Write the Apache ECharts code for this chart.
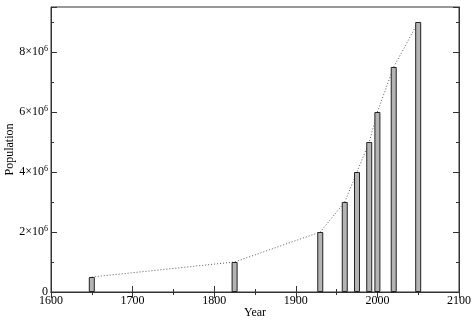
<!DOCTYPE html>
<html>
<head>
<meta charset="utf-8">
<script src="https://cdn.jsdelivr.net/npm/echarts@6/dist/echarts.min.js"></script>
<style>
  html, body { margin: 0; padding: 0; background: #fff; }
</style>
</head>
<body>
<div id="chart_con" style="width:474px;height:321px;"></div>
<script>
// population by year
const years = [1650, 1825, 1930, 1960, 1975, 1990, 2000, 2020, 2050];
const population = [0.5e6, 1e6, 2e6, 3e6, 4e6, 5e6, 6e6, 7.5e6, 9e6];
const xTicks = [1600, 1700, 1800, 1900, 2000, 2100];
const yTicks = [0, 2e6, 4e6, 6e6, 8e6];

let chart = echarts.init(document.getElementById('chart_con'));
let points = years.map((y, i) => [y, population[i]]);
const font = 'Liberation Serif';

const tickStyle = { inside: true, length: 6, lineStyle: { color: '#333' } };
const minorStyle = { show: true, splitNumber: 2, length: 3, lineStyle: { color: '#333' } };
const lineStyle = { color: '#333', width: 1 };

const option = {
    animation: false,
    grid: {
        left: 51, right: 15, top: 7, bottom: 29,
        outerBoundsMode: 'none', containLabel: false,
        show: true, borderColor: '#333', borderWidth: 1
    },
    xAxis: [
        {
            type: 'value', min: xTicks[0], max: xTicks[xTicks.length - 1], interval: 100,
            name: 'Year', nameLocation: 'middle', nameGap: 15, nameMoveOverlap: false,
            nameTextStyle: { fontFamily: font, fontSize: 12, color: '#000' },
            axisLine: { lineStyle: lineStyle },
            axisTick: tickStyle, minorTick: minorStyle,
            axisLabel: { fontFamily: font, fontSize: 12, color: '#000', margin: 3, formatter: v => String(v) },
            splitLine: { show: false }
        },
        {
            type: 'value', position: 'top', min: xTicks[0], max: xTicks[xTicks.length - 1], interval: 100,
            axisLine: { show: true, lineStyle: lineStyle },
            axisTick: tickStyle, minorTick: minorStyle,
            axisLabel: { show: false }, splitLine: { show: false }
        }
    ],
    yAxis: [
        {
            type: 'value', min: 0, max: 9.5e6, interval: 2e6,
            name: 'Population', nameLocation: 'middle', nameGap: 35, nameMoveOverlap: false,
            nameTextStyle: { fontFamily: font, fontSize: 12, color: '#000' },
            axisLine: { show: true, lineStyle: lineStyle },
            axisTick: tickStyle, minorTick: minorStyle,
            axisLabel: {
                fontFamily: font, fontSize: 12, color: '#000', margin: 3,
                showMaxLabel: false,
                formatter: function (v) {
                    if (v === 0) return '0';
                    return (v / 1e6) + '×10{sup|6}';
                },
                rich: { sup: { fontFamily: font, fontSize: 8, padding: [0, 0, 7, 0] } }
            },
            splitLine: { show: false }
        },
        {
            type: 'value', position: 'right', min: 0, max: 9.5e6, interval: 2e6,
            axisLine: { show: true, lineStyle: lineStyle },
            axisTick: tickStyle, minorTick: minorStyle,
            axisLabel: { show: false }, splitLine: { show: false }
        }
    ],
    series: [
        {
            type: 'line', data: points, showSymbol: false, z: 1,
            lineStyle: { color: '#555', width: 1, type: [1, 2] }
        },
        {
            type: 'bar', data: points, barWidth: 6, z: 2,
            itemStyle: { color: '#b4b4b4', borderColor: '#222', borderWidth: 1 }
        }
    ]
};

chart.setOption(option);
window.addEventListener('resize', function () {
    chart.resize();
});
</script>
</body>
</html>
